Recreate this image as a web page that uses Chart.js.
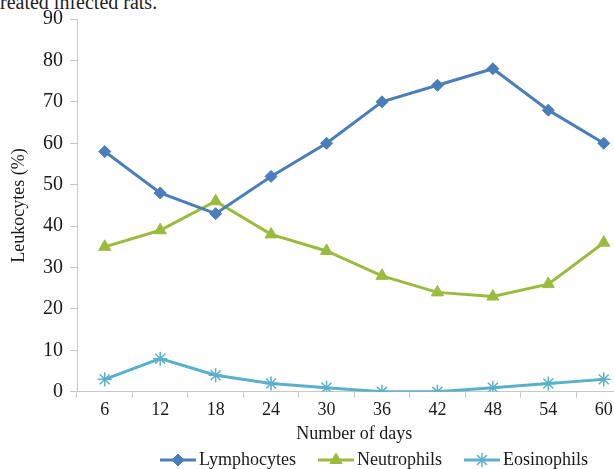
<!DOCTYPE html>
<html>
<head>
<meta charset="utf-8">
<script src="https://cdn.jsdelivr.net/npm/chart.js@4/dist/chart.umd.min.js"></script>
<style>
  html, body { margin: 0; padding: 0; background: #fff; overflow: hidden; width: 614px; height: 469px; }
  #caption { position: absolute; left: 0; top: -9px; font: 20px "Liberation Serif", serif; color: #222; white-space: nowrap; }
  #wrap { position: absolute; left: 0; top: 0; width: 640px; height: 469px; }
</style>
</head>
<body>
<div id="caption">reated infected rats.</div>
<div id="wrap"><canvas id="chart"></canvas></div>
<script>
// data
var days = ['6', '12', '18', '24', '30', '36', '42', '48', '54', '60'];
var lymphocytes = [58, 48, 43, 52, 60, 70, 74, 78, 68, 60];
var neutrophils = [35, 39, 46, 38, 34, 28, 24, 23, 26, 36];
var eosinophils = [3, 8, 4, 2, 1, 0, 0, 1, 2, 3];
var yTicks = [0, 10, 20, 30, 40, 50, 60, 70, 80, 90];

var serif = '"Liberation Serif", "Times New Roman", serif';
var axisColor = '#c8c8c8';
var textColor = '#1a1a1a';

// legend drawn by hand so each entry shows line + marker like the original
var lineLegend = {
  id: 'lineLegend',
  afterDraw: function (chart) {
    var ctx = chart.ctx, y = 460, x = 160;
    ctx.save();
    ctx.font = '18px ' + serif;
    ctx.textBaseline = 'middle';
    chart.data.datasets.forEach(function (ds) {
      ctx.strokeStyle = ds.borderColor;
      ctx.fillStyle = ds.backgroundColor;
      ctx.lineWidth = 3;
      ctx.beginPath();
      ctx.moveTo(x, y);
      ctx.lineTo(x + 36, y);
      ctx.stroke();
      ctx.lineWidth = ds.pointBorderWidth || 1;
      Chart.helpers.drawPoint(ctx, {
        pointStyle: ds.pointStyle, radius: ds.pointRadius, rotation: 0, borderWidth: ds.pointBorderWidth || 1
      }, x + 18, y);
      ctx.fillStyle = textColor;
      ctx.fillText(ds.label, x + 39, y);
      x += 39 + ctx.measureText(ds.label).width + 22;
    });
    ctx.restore();
  }
};

new Chart(document.getElementById('chart'), {
  type: 'line',
  data: {
    labels: days,
    datasets: [{
      label: 'Lymphocytes',
      data: lymphocytes,
      borderColor: '#4a7ebb',
      backgroundColor: '#4a7ebb',
      borderWidth: 3,
      pointStyle: 'rectRot',
      pointRadius: 6,
      pointBorderWidth: 1
    }, {
      label: 'Neutrophils',
      data: neutrophils,
      borderColor: '#9bbb3f',
      backgroundColor: '#9bbb3f',
      borderWidth: 3,
      pointStyle: 'triangle',
      pointRadius: 7,
      pointBorderWidth: 1
    }, {
      label: 'Eosinophils',
      data: eosinophils,
      borderColor: '#5ab0c8',
      backgroundColor: '#5ab0c8',
      borderWidth: 3,
      pointStyle: 'star',
      pointRadius: 7,
      pointBorderWidth: 1.5
    }]
  },
  options: {
    responsive: true,
    maintainAspectRatio: false,
    animation: false,
    layout: { padding: { top: 17, right: 8, bottom: 24, left: 0 } },
    plugins: { legend: { display: false }, tooltip: { enabled: false } },
    scales: {
      x: {
        offset: true,
        grid: { offset: true, drawOnChartArea: false, drawTicks: true, tickLength: 6, color: axisColor },
        border: { display: true, color: axisColor, width: 1 },
        ticks: { color: textColor, font: { family: serif, size: 18 }, padding: 2, maxRotation: 0 },
        title: { display: true, text: 'Number of days', color: textColor, font: { family: serif, size: 18 }, padding: { top: 0, bottom: 0 } }
      },
      y: {
        min: 0,
        max: 90,
        afterBuildTicks: function (axis) {
          axis.ticks = yTicks.map(function (v) { return { value: v }; });
        },
        afterFit: function (axis) { axis.width = 77; },
        grid: { drawOnChartArea: false, drawTicks: true, tickLength: 7, color: axisColor },
        border: { display: true, color: axisColor, width: 1 },
        ticks: { color: textColor, font: { family: serif, size: 20 }, padding: 7 },
        title: { display: true, text: 'Leukocytes (%)', color: textColor, font: { family: serif, size: 18 }, padding: { top: 8, bottom: 0 } }
      }
    }
  },
  plugins: [lineLegend]
});
</script>
</body>
</html>
